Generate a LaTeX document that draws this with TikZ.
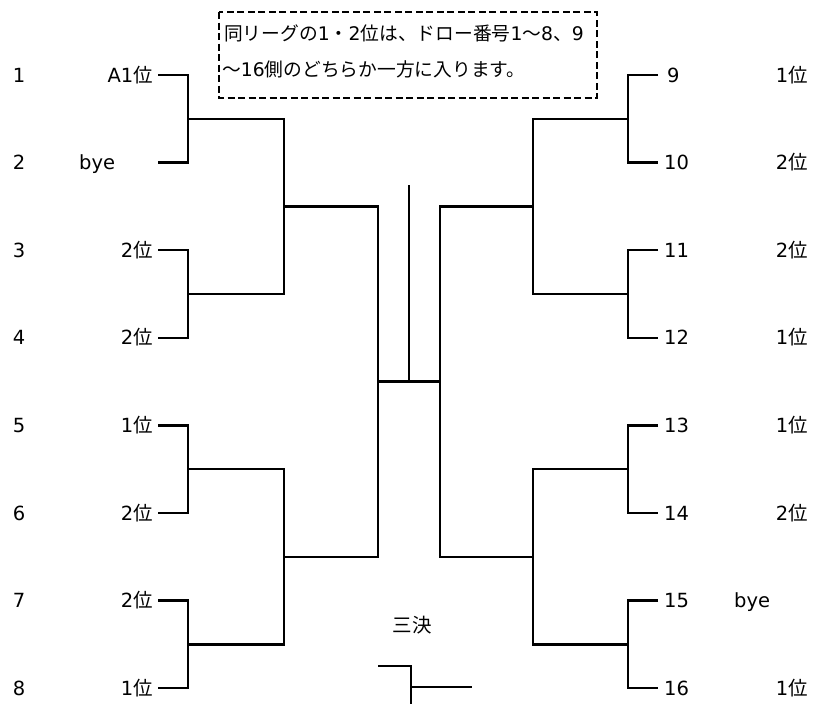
\documentclass[tikz,border=0pt]{standalone}
\usepackage{fontspec}
\setmainfont{DejaVu Sans}
\newfontfamily\jp{Noto Sans CJK JP}
\begin{document}
\begin{tikzpicture}[x=1pt,y=-1pt,
  txt/.style={inner sep=0pt, font=\fontsize{19.5}{23}\selectfont},
  notetxt/.style={inner sep=0pt, font=\fontsize{18.75}{22}\selectfont},
  bline/.style={line width=2.5pt, line join=miter},
  dashbox/.style={line width=2pt, dash pattern=on 7pt off 3.5pt}]
\useasboundingbox (0,0) rectangle (826,704);
% note box
\draw[dashbox] (219,12) rectangle (597,98);
\node[notetxt, anchor=base west] (note1) at (224,40) {{\jp 同リーグの}1{\jp ・}2{\jp 位は、ドロー番号}1{\jp 〜}8{\jp 、}9};
\node[notetxt, anchor=base west] (note2) at (222,76) {{\jp 〜}16{\jp 側のどちらか一方に入ります。}};
% rows
\foreach \i/\yy in {1/75,2/162.6,3/250.2,4/337.8,5/425.4,6/513,7/600.6,8/688.2}{
  \node[txt, anchor=base] (ln\i) at (19,\yy+7) {\i};
  \coordinate (la\i) at (158,\yy);
  \coordinate (lb\i) at (188,\yy);
  \coordinate (ra\i) at (658,\yy);
  \coordinate (rb\i) at (628,\yy);
}
% left labels
\node[txt, anchor=base east] (lt1) at (153,82) {A1{\jp 位}};
\node[txt, anchor=base west] (lt2) at (79,169.6) {bye};
\node[txt, anchor=base east] (lt3) at (153,257.2) {2{\jp 位}};
\node[txt, anchor=base east] (lt4) at (153,344.8) {2{\jp 位}};
\node[txt, anchor=base east] (lt5) at (153,432.4) {1{\jp 位}};
\node[txt, anchor=base east] (lt6) at (153,520) {2{\jp 位}};
\node[txt, anchor=base east] (lt7) at (153,607.6) {2{\jp 位}};
\node[txt, anchor=base east] (lt8) at (153,695.2) {1{\jp 位}};
% right numbers
\node[txt, anchor=base west] (rn1) at (667,82) {9};
\node[txt, anchor=base west] (rn2) at (664,169.6) {10};
\node[txt, anchor=base west] (rn3) at (664,257.2) {11};
\node[txt, anchor=base west] (rn4) at (664,344.8) {12};
\node[txt, anchor=base west] (rn5) at (664,432.4) {13};
\node[txt, anchor=base west] (rn6) at (664,520) {14};
\node[txt, anchor=base west] (rn7) at (664,607.6) {15};
\node[txt, anchor=base west] (rn8) at (664,695.2) {16};
% right labels
\node[txt, anchor=base east] (rt1) at (808,82) {1{\jp 位}};
\node[txt, anchor=base east] (rt2) at (808,169.6) {2{\jp 位}};
\node[txt, anchor=base east] (rt3) at (808,257.2) {2{\jp 位}};
\node[txt, anchor=base east] (rt4) at (808,344.8) {1{\jp 位}};
\node[txt, anchor=base east] (rt5) at (808,432.4) {1{\jp 位}};
\node[txt, anchor=base east] (rt6) at (808,520) {2{\jp 位}};
\node[txt, anchor=base west] (rt7) at (734,607.6) {bye};
\node[txt, anchor=base east] (rt8) at (808,695.2) {1{\jp 位}};
% first round
\draw[bline] (la1) -- (lb1) -- (lb2) -- (la2);
\draw[bline] (la3) -- (lb3) -- (lb4) -- (la4);
\draw[bline] (la5) -- (lb5) -- (lb6) -- (la6);
\draw[bline] (la7) -- (lb7) -- (lb8) -- (la8);
\draw[bline] (ra1) -- (rb1) -- (rb2) -- (ra2);
\draw[bline] (ra3) -- (rb3) -- (rb4) -- (ra4);
\draw[bline] (ra5) -- (rb5) -- (rb6) -- (ra6);
\draw[bline] (ra7) -- (rb7) -- (rb8) -- (ra8);
% match points
\coordinate (lm1) at (188,118.8); \coordinate (lq1) at (284,118.8);
\coordinate (lm2) at (188,294);   \coordinate (lq2) at (284,294);
\coordinate (lm3) at (188,469.2); \coordinate (lq3) at (284,469.2);
\coordinate (lm4) at (188,644.4); \coordinate (lq4) at (284,644.4);
\coordinate (rm1) at (628,118.8); \coordinate (rq1) at (533,118.8);
\coordinate (rm2) at (628,294);   \coordinate (rq2) at (533,294);
\coordinate (rm3) at (628,469.2); \coordinate (rq3) at (533,469.2);
\coordinate (rm4) at (628,644.4); \coordinate (rq4) at (533,644.4);
\draw[bline] (lm1) -- (lq1) -- (lq2) -- (lm2);
\draw[bline] (lm3) -- (lq3) -- (lq4) -- (lm4);
\draw[bline] (rm1) -- (rq1) -- (rq2) -- (rm2);
\draw[bline] (rm3) -- (rq3) -- (rq4) -- (rm4);
% semifinals
\coordinate (ls1) at (284,206.4); \coordinate (lf1) at (378,206.4);
\coordinate (ls2) at (284,556.8); \coordinate (lf2) at (378,556.8);
\coordinate (rs1) at (533,206.4); \coordinate (rf1) at (440,206.4);
\coordinate (rs2) at (533,556.8); \coordinate (rf2) at (440,556.8);
\draw[bline] (ls1) -- (lf1) -- (lf2) -- (ls2);
\draw[bline] (rs1) -- (rf1) -- (rf2) -- (rs2);
% final
\coordinate (fl) at (378,381.6); \coordinate (fr) at (440,381.6);
\coordinate (fc) at (409,381.6); \coordinate (ft) at (409,185);
\draw[bline] (fl) -- (fr);
\draw[bline] (fc) -- (ft);
% third place
\node[txt, anchor=base] (third) at (412,632) {{\jp 三決}};
\coordinate (t1) at (378,666); \coordinate (t2) at (411,666);
\coordinate (t3) at (411,704); \coordinate (t4) at (411,687);
\coordinate (t5) at (472,687);
\draw[bline] (t1) -- (t2) -- (t3);
\draw[bline] (t4) -- (t5);
\end{tikzpicture}
\end{document}
